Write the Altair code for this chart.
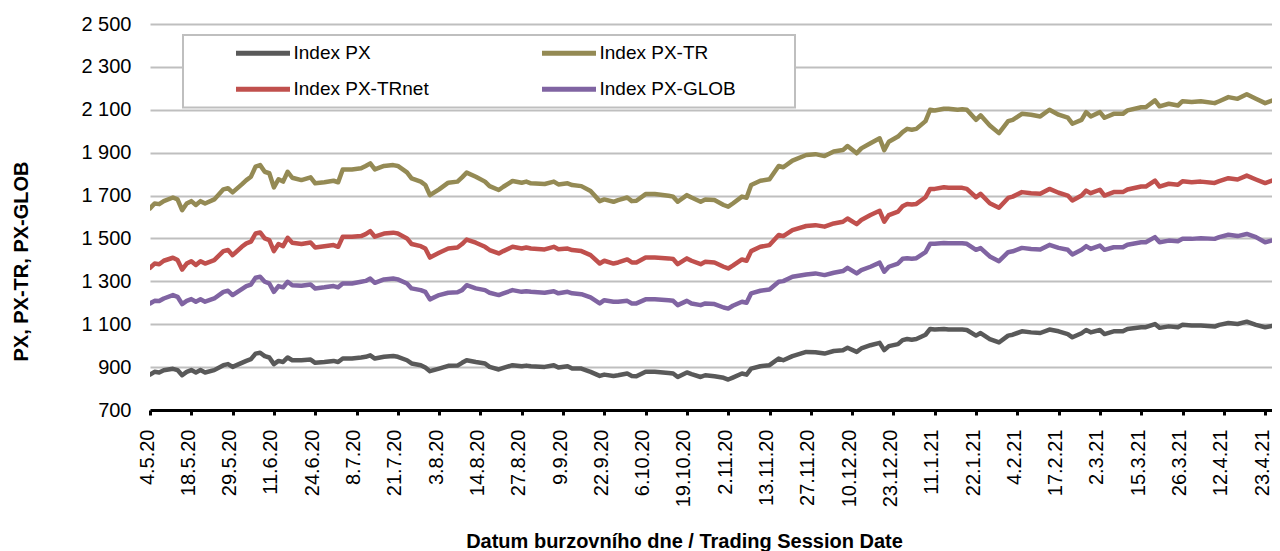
import altair as alt
import pandas as pd

SERIES = ["Index PX", "Index PX-TR", "Index PX-TRnet", "Index PX-GLOB"]
COLORS = ["#595959", "#948A54", "#C0504D", "#8064A2"]
# legend fills column by column: PX, PX-TRnet | PX-TR, PX-GLOB
LEGEND_ORDER = ["Index PX", "Index PX-TRnet", "Index PX-TR", "Index PX-GLOB"]

TICK_LABELS = ["4.5.20", "18.5.20", "29.5.20", "11.6.20", "24.6.20", "8.7.20", "21.7.20",
               "3.8.20", "14.8.20", "27.8.20", "9.9.20", "22.9.20", "6.10.20", "19.10.20",
               "2.11.20", "13.11.20", "27.11.20", "10.12.20", "23.12.20", "11.1.21", "22.1.21",
               "4.2.21", "17.2.21", "2.3.21", "15.3.21", "26.3.21", "12.4.21", "23.4.21"]
TICK_STEP = 9
Y_TICKS = [700, 900, 1100, 1300, 1500, 1700, 1900, 2100, 2300, 2500]

# trading-session index (0 = 4.5.2020)
SESSION = [0, 1, 2, 3, 5, 6, 7, 8, 9, 10, 11, 12, 14, 16, 17, 18, 20, 21, 22, 23,
           24, 25, 26, 27, 28, 29, 30, 31, 33, 35, 36, 38, 40, 41, 42, 44, 46, 47, 48, 49,
           51, 53, 54, 56, 57, 59, 60, 61, 63, 65, 67, 68, 69, 71, 73, 74, 76, 77, 79, 81,
           82,
           83, 86, 88, 89, 91, 92, 94, 96, 98, 99, 101, 102, 104, 105, 106, 108, 110, 113, 114, 115,
           117, 118, 120, 121, 123, 125, 126, 127, 129, 130, 131, 133, 135, 137, 138, 140, 143, 145, 147, 149,
           151, 152, 154, 155, 157, 159, 160, 161, 163,
           164, 165, 166, 167, 169, 170, 171, 173, 174, 176, 177, 178, 180, 181, 183, 185, 187, 188, 190, 192,
           194, 196, 198, 200, 201, 203, 204, 205, 207, 208, 210, 212, 213, 216, 217, 219, 220, 222, 224, 225,
           227, 229, 232, 233, 235, 237, 239, 241, 243, 245, 246]

PX = [865, 878, 875, 885, 892, 886, 862, 878, 886, 875, 886, 875, 886, 909, 914, 901, 920, 929, 937, 963,
      967, 951, 945, 914, 929, 924, 945, 932, 932, 935, 920, 924, 929, 924, 940, 940, 945, 948, 955, 940,
      948, 952, 948, 932, 917, 909, 898, 881, 893, 906, 907, 920, 932, 924, 917, 901, 889, 896, 909, 904,
      907,
      904, 901, 909, 898, 904, 893, 893, 878, 859, 865, 859, 862, 870, 859, 857, 878, 878, 873, 870, 854,
      875, 867, 854, 862, 857, 850, 842, 851, 870, 865, 893, 904, 909, 940, 932, 951, 971, 969, 963, 975,
      979, 990, 971, 987, 1002, 1013, 979, 998, 1007,
      1026, 1031, 1028, 1031, 1051, 1078, 1075, 1078, 1075, 1075, 1075, 1073, 1047, 1059, 1031, 1015, 1047, 1051, 1067, 1062,
      1059, 1075, 1067, 1054, 1039, 1058, 1073, 1062, 1073, 1054, 1067, 1067, 1078, 1086, 1086, 1101, 1083, 1090, 1086, 1097,
      1094, 1094, 1089, 1097, 1106, 1101, 1112, 1097, 1086, 1094, 1109]

PX_TR = [1640, 1663, 1660, 1674, 1691, 1682, 1632, 1663, 1674, 1656, 1674, 1663, 1682, 1729, 1734, 1715, 1752, 1772, 1788, 1835,
         1842, 1811, 1804, 1738, 1776, 1765, 1811, 1783, 1772, 1785, 1757, 1762, 1769, 1762, 1822, 1822, 1827, 1838, 1850, 1822,
         1838, 1842, 1838, 1808, 1780, 1765, 1749, 1702, 1729, 1760, 1765, 1785, 1807, 1788, 1765, 1744, 1726, 1741, 1768, 1760,
         1765,
         1757, 1754, 1765, 1752, 1757, 1749, 1744, 1721, 1674, 1682, 1671, 1679, 1691, 1674, 1676, 1707, 1707, 1699, 1695, 1671,
         1702, 1691, 1671, 1682, 1679, 1656, 1648, 1663, 1695, 1690, 1749, 1769, 1776, 1838, 1832, 1863, 1889, 1893, 1884, 1905,
         1912, 1931, 1897, 1920, 1944, 1967, 1912, 1951, 1975,
         1996, 2011, 2007, 2011, 2047, 2100, 2097, 2105, 2105, 2100, 2102, 2100, 2053, 2074, 2027, 1991, 2047, 2053, 2081, 2077,
         2069, 2100, 2077, 2063, 2035, 2053, 2089, 2069, 2089, 2063, 2081, 2081, 2097, 2112, 2112, 2144, 2116, 2128, 2120, 2140,
         2136, 2140, 2131, 2140, 2159, 2151, 2172, 2151, 2131, 2147, 2162]

PX_TRNET = [1363, 1383, 1380, 1396, 1410, 1399, 1355, 1383, 1394, 1376, 1394, 1383, 1399, 1441, 1446, 1422, 1461, 1477, 1485, 1523,
            1528, 1500, 1492, 1441, 1474, 1464, 1503, 1480, 1474, 1481, 1458, 1464, 1469, 1461, 1508, 1508, 1511, 1520, 1534, 1508,
            1523, 1527, 1523, 1500, 1474, 1464, 1453, 1411, 1433, 1453, 1458, 1474, 1495, 1480, 1461, 1446, 1430, 1441, 1461, 1453,
            1458,
            1453, 1449, 1461, 1450, 1453, 1446, 1441, 1422, 1383, 1396, 1383, 1388, 1402, 1388, 1388, 1411, 1411, 1407, 1404, 1380,
            1407, 1396, 1380, 1391, 1388, 1368, 1360, 1373, 1402, 1396, 1441, 1461, 1469, 1516, 1511, 1539, 1558, 1562, 1555, 1570,
            1578, 1593, 1567, 1586, 1609, 1629, 1578, 1609, 1625,
            1650, 1661, 1658, 1661, 1692, 1731, 1731, 1739, 1736, 1736, 1736, 1731, 1692, 1708, 1664, 1643, 1689, 1695, 1716, 1711,
            1708, 1731, 1713, 1700, 1677, 1700, 1723, 1711, 1727, 1700, 1716, 1716, 1728, 1742, 1742, 1770, 1742, 1755, 1750, 1767,
            1762, 1765, 1759, 1767, 1781, 1775, 1793, 1775, 1758, 1773, 1789]

PX_GLOB = [1197, 1209, 1208, 1220, 1236, 1228, 1194, 1209, 1217, 1205, 1216, 1205, 1220, 1251, 1256, 1236, 1264, 1278, 1285, 1317,
           1321, 1298, 1290, 1251, 1278, 1272, 1298, 1282, 1279, 1285, 1267, 1272, 1278, 1272, 1290, 1290, 1298, 1302, 1313, 1293,
           1309, 1313, 1309, 1290, 1267, 1259, 1251, 1216, 1236, 1247, 1249, 1259, 1282, 1267, 1259, 1247, 1236, 1244, 1259, 1251,
           1254,
           1251, 1247, 1254, 1244, 1251, 1244, 1240, 1225, 1197, 1212, 1205, 1205, 1209, 1197, 1197, 1216, 1216, 1212, 1209, 1189,
           1209, 1197, 1189, 1197, 1194, 1178, 1173, 1186, 1205, 1200, 1244, 1256, 1262, 1298, 1301, 1321, 1332, 1337, 1329, 1340,
           1348, 1363, 1337, 1352, 1368, 1387, 1345, 1368, 1383,
           1405, 1408, 1405, 1408, 1436, 1475, 1475, 1479, 1478, 1478, 1478, 1475, 1447, 1455, 1416, 1394, 1436, 1440, 1456, 1451,
           1448, 1470, 1456, 1447, 1425, 1447, 1464, 1451, 1467, 1447, 1459, 1459, 1471, 1482, 1482, 1506, 1482, 1490, 1487, 1498,
           1498, 1501, 1498, 1506, 1517, 1511, 1521, 1506, 1482, 1493, 1513]

rows = []
for name, vals in zip(SERIES, [PX, PX_TR, PX_TRNET, PX_GLOB]):
    for s, v in zip(SESSION, vals):
        rows.append({"session": s, "value": v, "series": name})
df = pd.DataFrame(rows)

color_of = dict(zip(SERIES, COLORS))
FONT = "Liberation Sans"
label_array = "[" + ",".join("'%s'" % t for t in TICK_LABELS) + "]"

lines = alt.Chart(df).mark_line(strokeWidth=4.5, strokeJoin="round", strokeCap="round", clip=True).encode(
    x=alt.X("session:Q",
            scale=alt.Scale(domain=[0, 244.5], nice=False, zero=False),
            axis=alt.Axis(values=list(range(0, len(TICK_LABELS) * TICK_STEP, TICK_STEP)),
                          labelExpr=label_array + "[round(datum.value / %d)]" % TICK_STEP,
                          labelAngle=270, labelAlign="right", labelBaseline="middle",
                          labelFont=FONT, labelFontSize=20, labelColor="black",
                          labelPadding=14, labelOffset=-3, labelOverlap=False, labelFlush=False,
                          domainColor="black", domainWidth=3,
                          tickColor="black", tickWidth=3, tickSize=5,
                          grid=False,
                          title="Datum burzovního dne / Trading Session Date",
                          titleFont=FONT, titleFontSize=20, titleFontWeight="bold",
                          titleColor="black", titleX=534, titleY=137,
                          titleAlign="center", titleBaseline="alphabetic", titleAngle=0)),
    y=alt.Y("value:Q",
            scale=alt.Scale(domain=[700, 2500], nice=False, zero=False),
            axis=alt.Axis(values=Y_TICKS,
                          labelExpr="replace(format(datum.value, ','), ',', ' ')",
                          labelFont=FONT, labelFontSize=20, labelColor="black",
                          labelPadding=19, domain=False, ticks=False,
                          grid=True, gridColor="#BFBFBF", gridWidth=2,
                          title="PX, PX-TR, PX-GLOB",
                          titleFont=FONT, titleFontSize=20, titleFontWeight="bold",
                          titleColor="black", titleX=-129, titleY=237,
                          titleAngle=270, titleAlign="center", titleBaseline="middle")),
    color=alt.Color("series:N",
                    scale=alt.Scale(domain=LEGEND_ORDER, range=[color_of[s] for s in LEGEND_ORDER]),
                    sort=LEGEND_ORDER,
                    legend=alt.Legend(title=None, orient="none", legendX=83.5, legendY=11.3,
                                      columns=2, symbolType="stroke", symbolSize=2916,
                                      symbolStrokeWidth=5, clipHeight=36, rowPadding=0,
                                      columnPadding=110, labelFont=FONT, labelFontSize=19,
                                      labelColor="black", labelOffset=1, padding=0,
                                      labelLimit=400)),
)

frame = alt.Chart(pd.DataFrame({"box": [0]})).mark_rect(
    fill="white", stroke="#BFBFBF", strokeWidth=2
).encode(x=alt.value(33), x2=alt.value(645), y=alt.value(11), y2=alt.value(83.5))

chart = alt.layer(lines, frame).properties(
    width=1122, height=386,
    autosize=alt.AutoSizeParams(type="none"),
    padding={"left": 142, "top": 16, "right": 0, "bottom": 145},
    background="white",
).configure_view(stroke=None)

chart.save("out.html", embed_options={"renderer": "svg", "actions": False})
